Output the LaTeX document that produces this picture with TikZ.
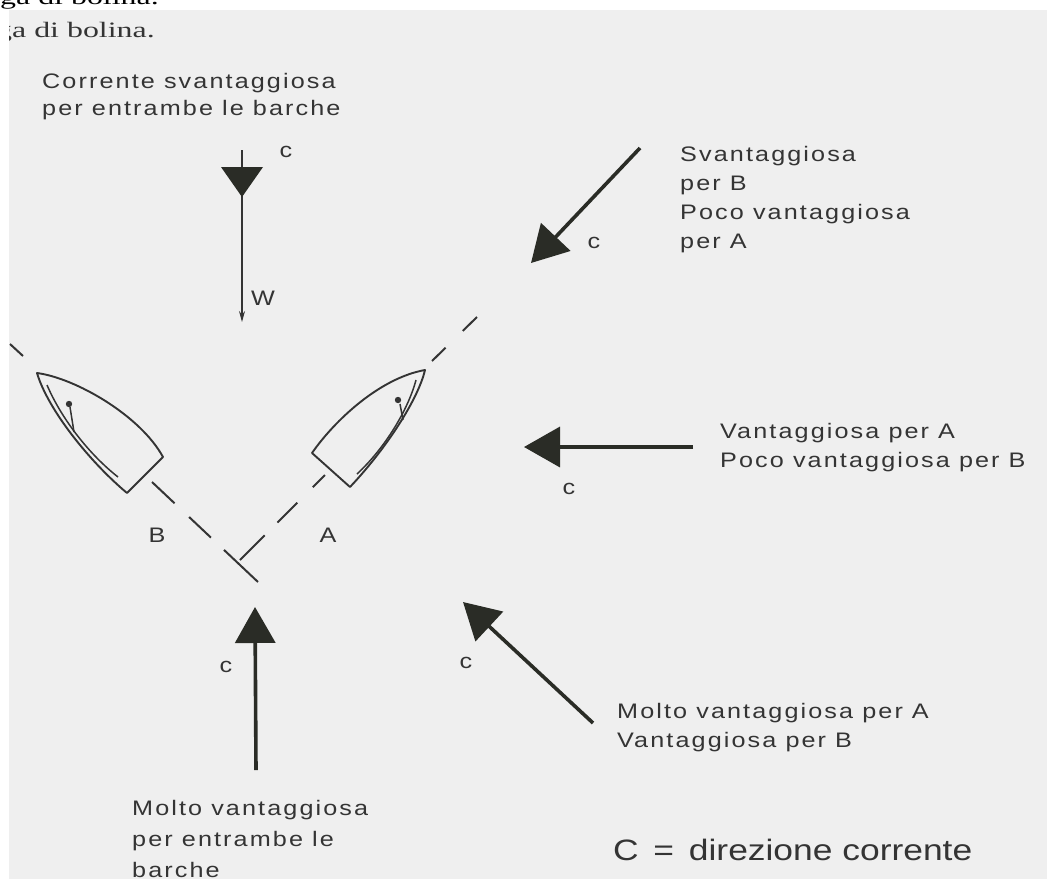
\documentclass[tikz,border=0pt]{standalone}
\usepackage{fontspec}
\usetikzlibrary{arrows.meta}
\newfontfamily\notefont{Liberation Sans}[FakeStretch=1.2,LetterSpace=10]
\newfontfamily\keyfont{Liberation Sans}[FakeStretch=1.2]
\newfontfamily\bookfont{Liberation Serif}[FakeStretch=1.45]
\definecolor{paper}{RGB}{239,239,239}
\definecolor{ink}{RGB}{52,52,52}
\definecolor{arrowink}{RGB}{42,44,38}

\begin{document}
\begin{tikzpicture}[x=1pt,y=-1pt,
    note/.style={anchor=north west, inner sep=0pt, align=left, text=ink,
                 font=\notefont\fontsize{21}{29}\selectfont},
    tag/.style={inner sep=0pt, text=ink, font=\notefont\fontsize{21}{29}\selectfont},
    booktext/.style={inner sep=0pt, text=ink, font=\bookfont\fontsize{22}{26}\selectfont},
    hull/.style={draw=ink, line width=1.9pt, line join=round},
    trail/.style={draw=ink, line width=2pt},
    current/.style={draw=arrowink, line width=3.6pt,
                    -{Triangle[length=36pt,width=40pt]}},
    wind/.style={draw=ink, line width=1.4pt, -{Stealth[length=11pt,width=6pt]}}
]
\useasboundingbox (0,0) rectangle (1047,879);
\clip (0,0) rectangle (1047,879);
\fill[white] (0,0) rectangle (1047,879);

% page text above the figure
\node[booktext, text=black, anchor=base west] (prevline) at (0,4) {ga di bolina.};
\fill[paper] (9,10) rectangle (1047,879);
\begin{scope}
  \clip (9,10) rectangle (1047,879);
  \node[booktext, anchor=base west] (headline) at (-4,37) {ga di bolina.};
\end{scope}

% course lines of the two boats
\coordinate (trailB1) at (10,344);
\coordinate (trailB2) at (23,356);
\coordinate (sternB) at (152,482);
\coordinate (meetB) at (258,582);
\coordinate (meetA) at (240,560);
\coordinate (sternA) at (325,475);
\coordinate (bowA) at (432,361);
\coordinate (aheadA) at (477,317);
\draw[trail] (trailB1) -- (trailB2);
\draw[trail, dash pattern=on 31pt off 20pt on 30pt off 18pt on 60pt off 10pt] (sternB) -- (meetB);
\draw[trail, dash pattern=on 35pt off 18pt on 28pt off 22pt on 20pt off 60pt] (meetA) -- (sternA);
\draw[trail, dash pattern=on 19pt off 24pt on 22pt off 20pt] (bowA) -- (aheadA);

% boat B
\draw[hull] (37,373) .. controls (75,378) and (140,415) .. (163,457)
            -- (127,493) .. controls (90,462) and (48,410) .. cycle;
\draw[hull, line width=1.5pt] (47,385) .. controls (62,420) and (90,455) .. (118,477);
\fill[ink] (69,404) circle (3.2);
\draw[hull, line width=1.5pt] (70,407) -- (74,432);

% boat A
\draw[hull] (312,453) .. controls (335,420) and (380,378) .. (425,370)
            .. controls (418,400) and (385,450) .. (350,487) -- cycle;
\draw[hull, line width=1.5pt] (416,380) .. controls (408,410) and (385,448) .. (357,474);
\fill[ink] (398,400) circle (3.2);
\draw[hull, line width=1.5pt] (400,404) -- (403,420);

\node[tag] (labelB) at (157,535) {B};
\node[tag] (labelA) at (328,535) {A};

% wind and current from ahead
\coordinate (windtop) at (242,150);
\coordinate (windend) at (242,322);
\draw[wind] (windtop) -- (windend);
\fill[arrowink] (221,167) -- (263,167) -- (242,197) -- cycle;
\node[tag] (cN) at (286,152) {c};
\node[tag] (labelW) at (263,298) {W};

% currents at the other bearings
\coordinate (tailNE) at (640,148);
\coordinate (tipNE) at (531,263);
\coordinate (tailE) at (693,447);
\coordinate (tipE) at (524,447);
\coordinate (tailSE) at (593,723);
\coordinate (tipSE) at (463,602);
\coordinate (tailS) at (256,770);
\coordinate (tipS) at (255,607);
\draw[current] (tailNE) -- (tipNE);
\draw[current] (tailE) -- (tipE);
\draw[current] (tailSE) -- (tipSE);
\draw[current] (tailS) -- (tipS);
\node[tag] (cNE) at (594,243) {c};
\node[tag] (cE) at (569,489) {c};
\node[tag] (cSE) at (466,663) {c};
\node[tag] (cS) at (226,667) {c};

% notes
\node[note, font=\notefont\fontsize{21}{27}\selectfont] (hintN) at (42,73)
     {Corrente svantaggiosa\\per entrambe le barche};
\node[note] (hintNE) at (680,146) {Svantaggiosa\\per B\\Poco vantaggiosa\\per A};
\node[note] (hintE) at (720,423) {Vantaggiosa per A\\Poco vantaggiosa per B};
\node[note] (hintSE) at (617,703) {Molto vantaggiosa per A\\Vantaggiosa per B};
\node[note, font=\notefont\fontsize{21}{31}\selectfont] (hintS) at (132,800)
     {Molto vantaggiosa\\per entrambe le\\barche};
\node[inner sep=0pt, anchor=base west, text=ink,
      font=\keyfont\fontsize{29.5}{34}\selectfont] (legend) at (613,860)
      {C \,=\, direzione corrente};
\end{tikzpicture}
\end{document}
